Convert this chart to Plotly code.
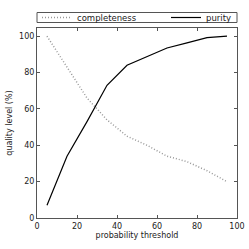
import plotly.graph_objects as go

thresholds = [5, 15, 25, 35, 45, 55, 65, 75, 85, 95]
completeness = [100, 83, 66, 54, 45, 40, 34, 31, 26, 20]
purity = [7, 34, 53, 73, 84, 88.6, 93.5, 96.3, 99.2, 100]

fig = go.Figure()
fig.add_trace(go.Scatter(x=thresholds, y=completeness, mode="lines", name="completeness",
                         line=dict(color="#999999", width=1.5, dash="1px,2px"), legend="legend"))
fig.add_trace(go.Scatter(x=thresholds, y=purity, mode="lines", name="purity",
                         line=dict(color="black", width=1.2), legend="legend2"))

axis_common = dict(showline=True, linecolor="#555555", linewidth=1, mirror="ticks",
                   ticks="inside", ticklen=3, tickcolor="#555555", showgrid=False,
                   zeroline=False, tickfont=dict(size=8, color="#222222"))
fig.update_xaxes(range=[0, 100], dtick=20, title=dict(text="probability threshold", font=dict(size=8), standoff=1),
                 **axis_common)
fig.update_yaxes(range=[0, 104.5], tickvals=[0, 20, 40, 60, 80, 100],
                 title=dict(text="quality level (%)", font=dict(size=8), standoff=5), **axis_common)

# legend frame (paper coords): plot top at 28px, plot height 190px
fig.add_shape(type="rect", xref="paper", yref="paper", x0=0, x1=1,
              y0=(218 - 22.5) / 190, y1=(218 - 12.5) / 190,
              line=dict(color="#555555", width=1), fillcolor="rgba(0,0,0,0)")

leg = dict(orientation="h", yanchor="middle", y=(218 - 17.5) / 190, font=dict(size=8.5),
           bgcolor="rgba(0,0,0,0)", borderwidth=0, itemwidth=30)
fig.update_layout(
    width=249, height=249,
    margin=dict(l=37, r=12, t=28, b=31, autoexpand=False),
    paper_bgcolor="white", plot_bgcolor="white",
    font=dict(family="DejaVu Sans", size=8, color="#222222"),
    showlegend=True,
    legend=dict(x=0.0, xanchor="left", **leg),
    legend2=dict(x=1.0, xanchor="right", **leg),
)
fig.write_html("out.html", config={"displayModeBar": False},
               post_script="document.body.style.margin='0';document.body.style.overflow='hidden';")
